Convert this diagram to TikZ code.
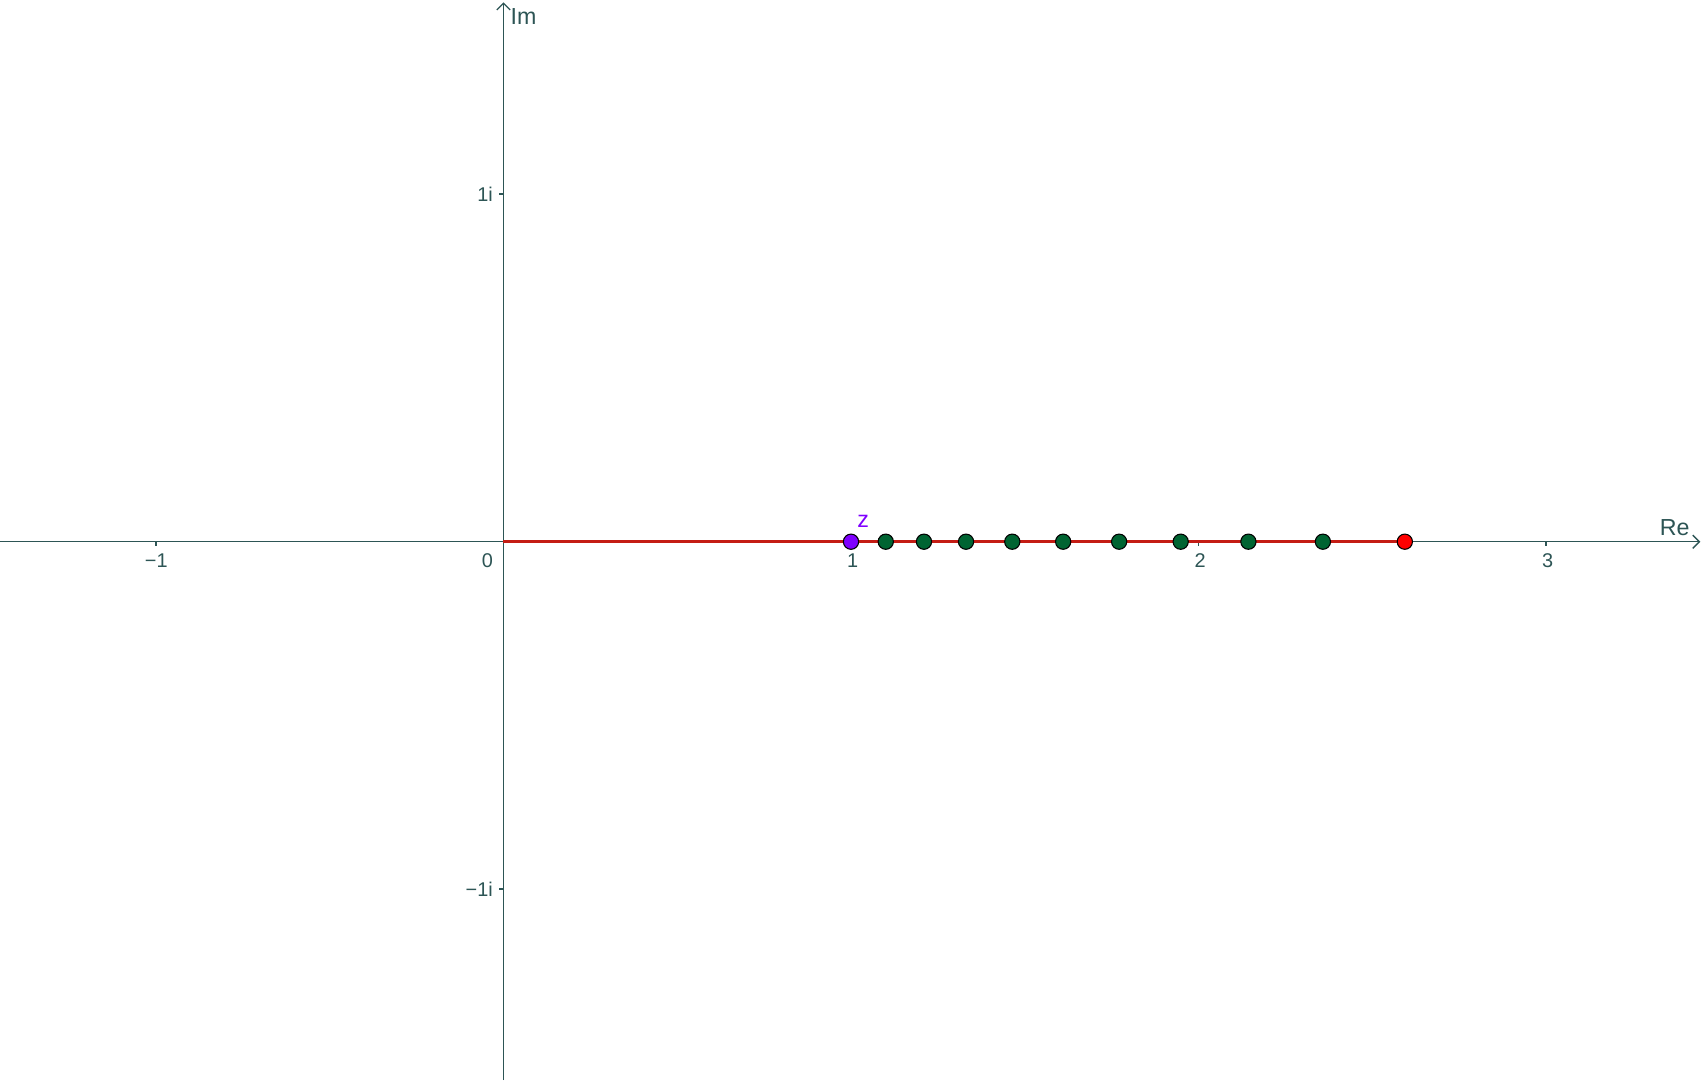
\documentclass[tikz,border=0pt]{standalone}
\usepackage{fontspec}
\setmainfont{Liberation Sans}
\usetikzlibrary{arrows.meta}
\definecolor{axiscol}{RGB}{45,85,85}
\definecolor{linecol}{RGB}{196,28,20}
\definecolor{ptgreen}{RGB}{0,100,50}
\definecolor{ptpurple}{RGB}{127,0,255}
\definecolor{ptred}{RGB}{255,0,0}
\tikzset{
  axis/.style={draw=axiscol,line width=1.1pt,-{Straight Barb[length=5pt,width=10pt,line width=1pt]}},
  tick/.style={draw=axiscol,line width=1.1pt},
  ticklab/.style={text=axiscol,font=\fontsize{15}{17}\selectfont,inner sep=0pt},
  axlab/.style={text=axiscol,font=\fontsize{17.5}{20}\selectfont,inner sep=0pt},
  pt/.style={circle,draw=black,line width=0.8pt,minimum size=11.5pt,inner sep=0pt},
  pathline/.style={draw=linecol,line width=2.7pt}
}
\begin{document}
\begin{tikzpicture}[x=9.209cm,y=9.209cm]
\useasboundingbox (-1.4489,-1.5491) rectangle (3.4489,1.5588);
\fill[white] (-1.4489,-1.5491) rectangle (3.4489,1.5588);
% axes
\coordinate (xl) at (-1.4489,0);
\coordinate (xr) at (3.444,0);
\coordinate (yb) at (0,-1.5491);
\coordinate (yt) at (0,1.552);
\coordinate (O) at (0,0);
\draw[axis] (xl) -- (xr);
\draw[axis] (yb) -- (yt);
% ticks
\foreach \x in {-1,1,2,3} \draw[tick] (\x,0) -- (\x,-0.012);
\foreach \y in {-1,1} \draw[tick] (0,\y) -- (-0.012,\y);
% tick labels
\node[ticklab] (lm1) at (-0.999,-0.054) {−1};
\node[ticklab] (l0) at (-0.046,-0.054) {0};
\node[ticklab] (l1) at (1.005,-0.054) {1};
\node[ticklab] (l2) at (2.005,-0.054) {2};
\node[ticklab] (l3) at (3.005,-0.054) {3};
\node[ticklab,anchor=east] (li1) at (-0.03,1.0) {1i};
\node[ticklab,anchor=east] (lim1) at (-0.03,-1.0) {−1i};
\node[axlab,anchor=west] (Im) at (0.02,1.51) {Im};
\node[axlab] (Re) at (3.37,0.04) {Re};
% path
\coordinate (p10c) at (2.5937,0);
\draw[pathline] (O) -- (p10c);
\node[pt,fill=ptred] (p10) at (p10c) {};
\node[pt,fill=ptpurple] (p0) at (1,0) {};
\foreach \k/\v in {1/1.1,2/1.21,3/1.331,4/1.4641,5/1.61051,6/1.771561,7/1.9487171,8/2.14358881,9/2.357947691}
  \node[pt,fill=ptgreen] (p\k) at (\v,0) {};
\node[text=ptpurple,font=\fontsize{17.5}{20}\selectfont,inner sep=0pt] (zl) at (1.035,0.058) {z};
\end{tikzpicture}
\end{document}
